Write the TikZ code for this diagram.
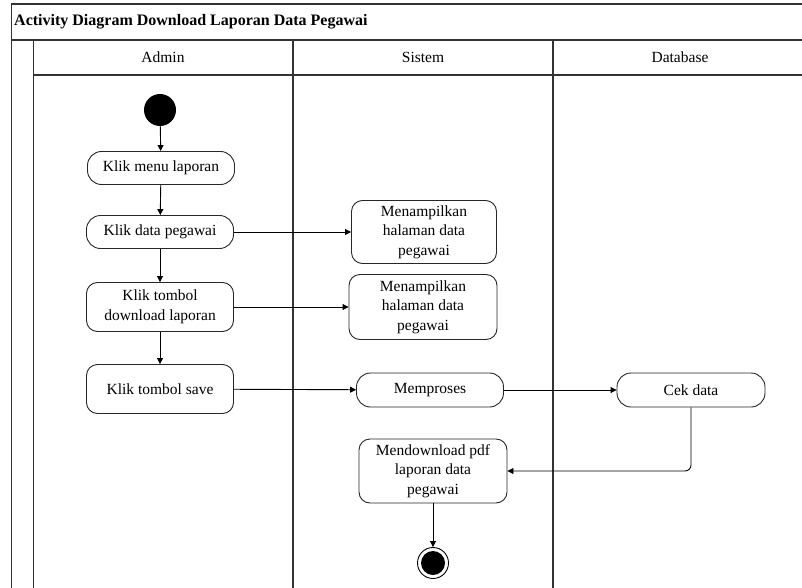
\documentclass[tikz,border=0pt]{standalone}
\usepackage{fontspec}
\setmainfont{Liberation Serif}
\usetikzlibrary{arrows.meta}
\begin{document}
\begin{tikzpicture}[x=1pt,y=-1pt,
  frame/.style={draw=black!80,line width=1.3pt},
  act/.style={draw=black!85,line width=0.9pt,rounded corners=11pt,minimum width=147pt,align=center,font=\fontsize{15.5}{19.5}\selectfont,inner sep=2pt},
  pill/.style={act,rounded corners=14pt},
  flow/.style={draw=black,line width=0.9pt,-{Triangle[length=6pt,width=6pt]}},
  lane/.style={font=\fontsize{15.5}{18}\selectfont}]
\useasboundingbox (0,0) rectangle (802,588);
\fill[white] (0,0) rectangle (802,588);
% frame
\draw[frame] (802,4) -- (11.5,4) -- (11.5,588);
\draw[frame] (11.5,40) -- (802,40);
\draw[frame] (33.5,40) -- (33.5,588);
\draw[frame] (33.5,75) -- (802,75);
\draw[frame] (293,40) -- (293,588);
\draw[frame] (553,40) -- (553,588);
\node[anchor=west,inner sep=0pt,font=\fontsize{16}{18}\selectfont\bfseries] (title) at (14,22) {Activity Diagram Download Laporan Data Pegawai};
\node[lane] (ladmin) at (163,57) {Admin};
\node[lane] (lsistem) at (423,57) {Sistem};
\node[lane] (ldb) at (680,57) {Database};
% nodes
\node[circle,fill=black,minimum size=32pt,inner sep=0pt] (start) at (160,110) {};
\node[pill,minimum height=33pt] (a1) at (161,168) {Klik menu laporan};
\node[pill,minimum height=33pt] (a2) at (160,232) {Klik data pegawai};
\node[act,minimum height=49pt] (a3) at (160,307) {Klik tombol\\download laporan};
\node[act,minimum height=49pt] (a4) at (160,389) {Klik tombol save};
\node[act,minimum height=63pt,minimum width=145pt] (s1) at (424,232) {Menampilkan\\halaman data\\pegawai};
\node[act,minimum height=65pt,minimum width=148pt] (s2) at (423,307) {Menampilkan\\halaman data\\pegawai};
\node[pill,minimum height=34pt] (s3) at (430,390) {Memproses};
\node[pill,minimum height=34pt,minimum width=148pt] (d1) at (691,390) {Cek data};
\node[act,minimum height=64pt,minimum width=148pt] (s4) at (433,471) {Mendownload pdf\\laporan data\\pegawai};
\node[circle,draw=black,line width=0.9pt,minimum size=31pt,inner sep=0pt] (end) at (433,563) {};
\fill[black] (end.center) circle (12pt);
% flows
\draw[flow] (start) -- (a1);
\draw[flow] (a1) -- (a2);
\draw[flow] (a2) -- (a3);
\draw[flow] (a3) -- (a4);
\draw[flow] (a2) -- (s1);
\draw[flow] (a3) -- (s2);
\draw[flow] (a4) -- (s3);
\draw[flow] (s3) -- (d1);
\draw[flow,rounded corners=6pt] (d1.south) |- (s4.east);
\draw[flow] (s4) -- (end);
\end{tikzpicture}
\end{document}
